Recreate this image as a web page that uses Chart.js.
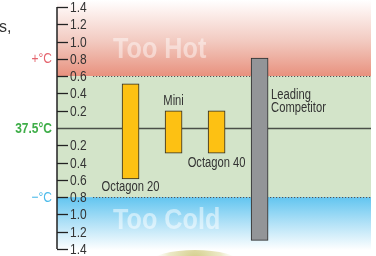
<!DOCTYPE html>
<html>
<head>
<meta charset="utf-8">
<script src="https://cdn.jsdelivr.net/npm/chart.js@4"></script>
<style>
  body { margin: 0; background: #fff; }
  #wrap { width: 376px; height: 256px; }
</style>
</head>
<body>
<div id="wrap"><canvas id="tempChart" width="376" height="256"></canvas></div>
<script>
// data
const categories = [['Octagon 20'], ['Mini'], ['Octagon 40'], ['Leading', 'Competitor']];
const lowValues = [-0.59, -0.29, -0.29, -1.30];
const highValues = [0.51, 0.20, 0.20, 0.81];
const barColors = ['#fdc113', '#fdc113', '#fdc113', '#939598'];
const labelPlaces = ['below', 'above', 'below', 'right'];
const tickValues = [1.4, 1.2, 1.0, 0.8, 0.6, 0.4, 0.2, 0, -0.2, -0.4, -0.6, -0.8, -1.0, -1.2, -1.4];
const hotLimit = 0.6;
const coldLimit = -0.8;
const sideLabels = ['+°C', '37.5°C', '−°C'];
const sideValues = [0.8, 0, -0.8];
const sideColors = ['#e4646e', '#3fae49', '#4cbbea'];

const FONT = "'Liberation Sans', Arial, sans-serif";
const NARROW = 0.8;

// narrow text: Liberation Sans squeezed sideways
function narrowText(ctx, text, x, y, align, font, color, baseline, squeeze) {
    ctx.save();
    ctx.font = font;
    ctx.fillStyle = color;
    ctx.textAlign = align;
    ctx.textBaseline = baseline || 'alphabetic';
    ctx.translate(x, y);
    ctx.scale(squeeze || NARROW, 1);
    ctx.fillText(text, 0, 0);
    ctx.restore();
}

const zonesPlugin = {
    id: 'zones',
    beforeDraw: (chart) => {
        const ctx = chart.ctx;
        const y = chart.scales.y;
        const area = chart.chartArea;
        const left = area.left;
        const right = chart.width - 5;
        const yHot = y.getPixelForValue(hotLimit);
        const yCold = y.getPixelForValue(coldLimit);
        ctx.save();
        ctx.fillStyle = '#fff';
        ctx.fillRect(0, 0, chart.width, chart.height);

        // too hot
        let g = ctx.createLinearGradient(0, 0, 0, yHot);
        g.addColorStop(0, '#ffffff');
        g.addColorStop(0.12, '#fdf3f1');
        g.addColorStop(0.55, '#f2c9bf');
        g.addColorStop(1, '#e8917e');
        ctx.fillStyle = g;
        ctx.fillRect(left, 0, right - left, yHot);

        // normal
        ctx.fillStyle = '#d3e4c9';
        ctx.fillRect(left, yHot, right - left, yCold - yHot);

        // too cold
        g = ctx.createLinearGradient(0, yCold, 0, chart.height);
        g.addColorStop(0, '#62c5f0');
        g.addColorStop(0.45, '#b3e2f7');
        g.addColorStop(0.9, '#ffffff');
        ctx.fillStyle = g;
        ctx.fillRect(left, yCold, right - left, chart.height - yCold);

        // big zone words
        narrowText(ctx, 'Too Hot', 113, 58, 'left', 'bold 30px ' + FONT, 'rgba(255,255,255,0.45)', null, 0.84);
        narrowText(ctx, 'Too Cold', 113, 229, 'left', 'bold 30px ' + FONT, 'rgba(255,255,255,0.5)', null, 0.84);

        // blob at bottom
        const rg = ctx.createRadialGradient(195, 262, 2, 195, 262, 44);
        rg.addColorStop(0, 'rgba(205,198,120,0.9)');
        rg.addColorStop(0.6, 'rgba(225,220,165,0.6)');
        rg.addColorStop(1, 'rgba(255,255,255,0)');
        ctx.fillStyle = rg;
        ctx.beginPath();
        ctx.ellipse(195, 262, 44, 12, 0, 0, Math.PI * 2);
        ctx.fill();

        // cropped text at top left
        ctx.font = '16px ' + FONT;
        ctx.fillStyle = '#333';
        ctx.textAlign = 'left';
        ctx.fillText('s,', -1, 32);
        ctx.restore();
    },
    beforeDatasetsDraw: (chart) => {
        const ctx = chart.ctx;
        const y = chart.scales.y;
        const area = chart.chartArea;
        const right = chart.width - 5;
        ctx.save();
        // tick marks and labels
        ctx.lineWidth = 1.3;
        tickValues.forEach(v => {
            const py = Math.round(y.getPixelForValue(v)) + 0.5;
            ctx.beginPath();
            ctx.moveTo(area.left, py);
            ctx.lineTo(v === 0 ? right : area.left + 11, py);
            ctx.strokeStyle = v === 0 ? '#4a4f48' : '#222';
            ctx.stroke();
            if (v !== 0) {
                narrowText(ctx, Math.abs(v).toFixed(1), area.left + 13, py + 0.5, 'left', '15px ' + FONT, '#333', 'middle');
            }
        });
        // axis line
        ctx.strokeStyle = '#222';
        ctx.lineWidth = 1.5;
        ctx.beginPath();
        ctx.moveTo(area.left, y.getPixelForValue(tickValues[0]));
        ctx.lineTo(area.left, y.getPixelForValue(tickValues[tickValues.length - 1]));
        ctx.stroke();
        // dotted limits
        ctx.setLineDash([1.2, 1.8]);
        ctx.lineWidth = 1.2;
        ctx.strokeStyle = '#555';
        [hotLimit, coldLimit].forEach(v => {
            const py = Math.round(y.getPixelForValue(v)) + 0.5;
            ctx.beginPath();
            ctx.moveTo(area.left + 36, py);
            ctx.lineTo(right, py);
            ctx.stroke();
        });
        ctx.setLineDash([]);
        // side labels
        sideLabels.forEach((t, i) => {
            narrowText(ctx, t, area.left - 5, y.getPixelForValue(sideValues[i]) + 0.5, 'right',
                (i === 1 ? 'bold ' : '') + '15px ' + FONT, sideColors[i], 'middle');
        });
        ctx.restore();
    },
    afterDatasetsDraw: (chart) => {
        const ctx = chart.ctx;
        const bars = chart.getDatasetMeta(0).data;
        const font = '14px ' + FONT;
        bars.forEach((bar, i) => {
            const top = Math.min(bar.y, bar.base);
            const bottom = Math.max(bar.y, bar.base);
            const lines = categories[i];
            if (labelPlaces[i] === 'below') {
                narrowText(ctx, lines[0], bar.x, bottom + 12 + (i === 2 ? 2 : 0), 'center', font, '#333');
            } else if (labelPlaces[i] === 'above') {
                narrowText(ctx, lines[0], bar.x, top - 6, 'center', font, '#333');
            } else {
                lines.forEach((l, k) => narrowText(ctx, l, bar.x + bar.width / 2 + 3, top + 41 + k * 13, 'left', font, '#333'));
            }
        });
    }
};

const ctx = document.getElementById('tempChart').getContext('2d');
const tempChart = new Chart(ctx, {
    type: 'bar',
    data: {
        datasets: [{
            data: categories.map((c, i) => ({ x: i + 1, y: [lowValues[i], highValues[i]] })),
            backgroundColor: barColors,
            borderColor: '#2b2b2b',
            borderWidth: 1,
            borderSkipped: false,
            barThickness: 17
        }]
    },
    options: {
        responsive: false,
        animation: false,
        devicePixelRatio: 1,
        layout: { padding: { left: 57, right: 5, top: 7, bottom: 7 } },
        scales: {
            x: {
                type: 'linear',
                display: false,
                offset: false,
                min: -0.71,
                max: 6.59
            },
            y: {
                display: false,
                min: -1.4,
                max: 1.4
            }
        },
        plugins: {
            legend: { display: false },
            tooltip: { enabled: false }
        }
    },
    plugins: [zonesPlugin]
});
</script>
</body>
</html>
